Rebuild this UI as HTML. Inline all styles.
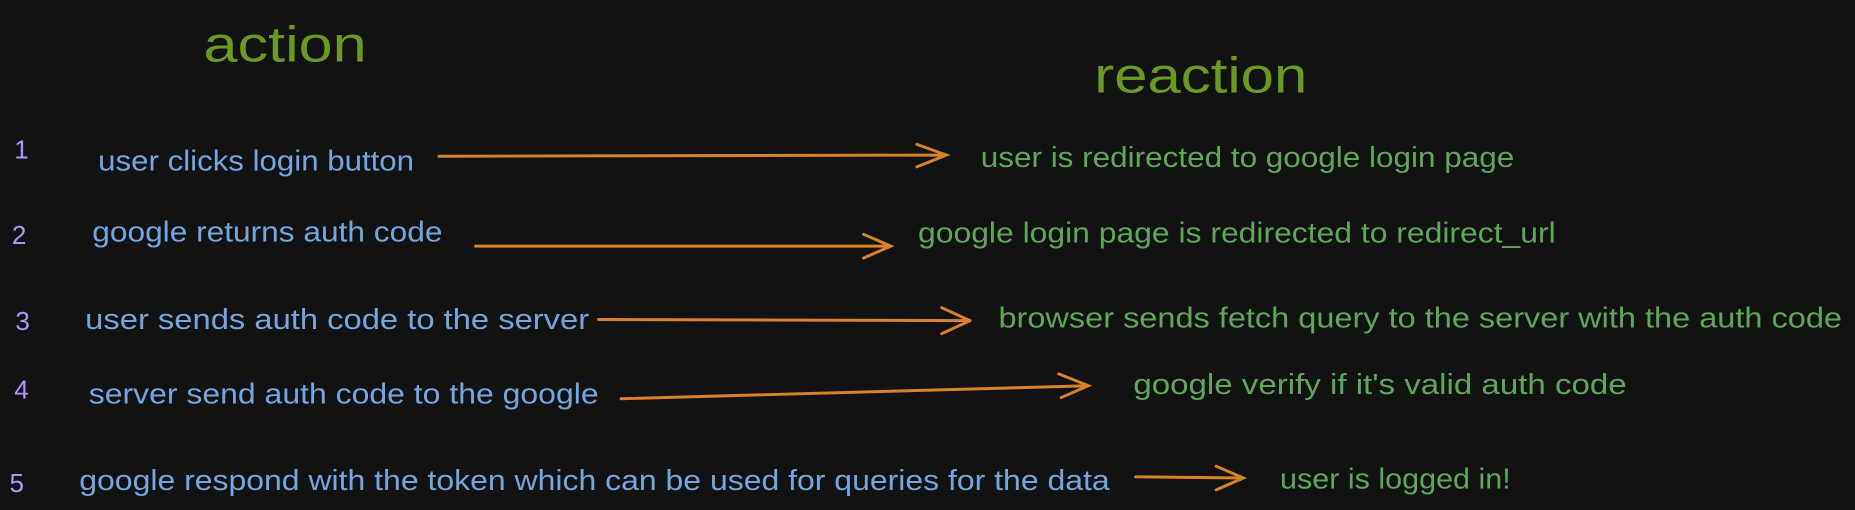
<!DOCTYPE html>
<html><head><meta charset="utf-8"><style>
html,body{margin:0;padding:0;background:#121212;width:1855px;height:510px;overflow:hidden}
svg{display:block}
text{font-family:"Liberation Sans",sans-serif}
</style></head><body>
<svg width="1855" height="510" viewBox="0 0 1568 431" xmlns="http://www.w3.org/2000/svg">
<rect width="1568" height="431" fill="#121212"/>
<g fill="#6a9a23" font-size="42">
<text x="172" y="52" textLength="138" lengthAdjust="spacingAndGlyphs">action</text>
<text x="925" y="78" textLength="180" lengthAdjust="spacingAndGlyphs">reaction</text>
</g>
<g fill="#b197fc" font-size="22">
<text x="12" y="134">1</text>
<text x="10" y="206">2</text>
<text x="13" y="279">3</text>
<text x="12" y="337">4</text>
<text x="8" y="416">5</text>
</g>
<g fill="#74a6e0" font-size="24">
<text x="83" y="144" textLength="267" lengthAdjust="spacingAndGlyphs">user clicks login button</text>
<text x="78" y="204" textLength="296" lengthAdjust="spacingAndGlyphs">google returns auth code</text>
<text x="72" y="278" textLength="426" lengthAdjust="spacingAndGlyphs">user sends auth code to the server</text>
<text x="75" y="341" textLength="431" lengthAdjust="spacingAndGlyphs">server send auth code to the google</text>
<text x="67" y="414" textLength="871" lengthAdjust="spacingAndGlyphs">google respond with the token which can be used for queries for the data</text>
</g>
<g fill="#5fa85a" font-size="24">
<text x="829" y="141" textLength="451" lengthAdjust="spacingAndGlyphs">user is redirected to google login page</text>
<text x="776" y="205" textLength="539" lengthAdjust="spacingAndGlyphs">google login page is redirected to redirect_url</text>
<text x="844" y="277" textLength="713" lengthAdjust="spacingAndGlyphs">browser sends fetch query to the server with the auth code</text>
<text x="958" y="333" textLength="417" lengthAdjust="spacingAndGlyphs">google verify if it's valid auth code</text>
<text x="1082" y="413" textLength="195" lengthAdjust="spacingAndGlyphs">user is logged in!</text>
</g>
<g stroke="#d9822b" stroke-width="2.5" fill="none" stroke-linecap="round">
<path d="M371 132 L800 131 M775 122 L800 131 L775 141"/>
<path d="M402 208 L753 208 M730 198 L753 208 L730 218"/>
<path d="M506 270 L820 271 M796 260 L820 271 M796 282 L820 271"/>
<path d="M525 337 L920 326 M895 316 L920 326 L897 336"/>
<path d="M960 403 L1051 404 M1028 394 L1051 404 L1028 414"/>
</g>
</svg>
</body></html>
